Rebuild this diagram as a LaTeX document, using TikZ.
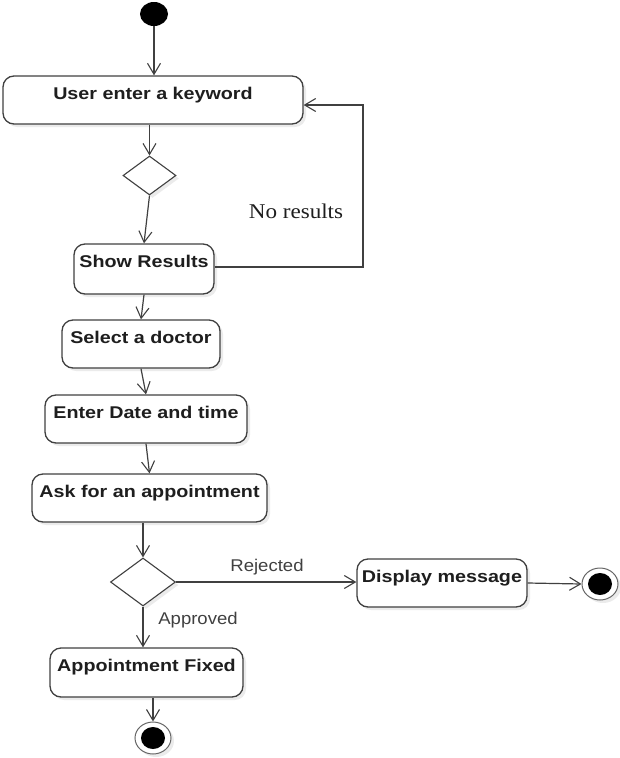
\documentclass[tikz,border=0pt]{standalone}
\usepackage{fontspec}
\setmainfont{Liberation Sans}
\newfontfamily\boxfont[FakeStretch=1.16]{Liberation Sans}
\newfontfamily\guardfont[FakeStretch=1.09]{Liberation Sans}
\newfontfamily\notefont[FakeStretch=1.1]{Liberation Serif}
\usetikzlibrary{arrows.meta,shapes.geometric,shadows}

\definecolor{edge}{HTML}{404040}
\definecolor{ink}{HTML}{1E1E1E}

\tikzset{
  softshadow/.style={drop shadow={shadow xshift=3pt,shadow yshift=-3pt,fill=black,opacity=0.08}},
  action/.style={draw=edge, line width=1.3pt, rounded corners=11pt, fill=white, softshadow,
    inner xsep=0pt, inner ysep=0pt, text height=23pt, text depth=#1, text=ink,
    font=\boxfont\bfseries\fontsize{17pt}{20pt}\selectfont},
  action/.default=25pt,
  decision/.style={diamond, draw=edge, line width=1.1pt, fill=white, softshadow, inner sep=0pt},
  startdot/.style={ellipse, fill=black, inner sep=0pt, minimum width=28pt, minimum height=24pt},
  endring/.style={ellipse, draw=edge!80, line width=1pt, fill=white, softshadow, inner sep=0pt,
    minimum width=36pt, minimum height=32pt},
  enddot/.style={ellipse, fill=black, inner sep=0pt, minimum width=24pt, minimum height=22pt},
  flow/.style={draw=edge, line width=1.2pt, -{Straight Barb[length=11pt,width=13pt,line width=1.1pt]}},
  guard/.style={text=edge, inner sep=0pt, font=\guardfont\fontsize{17pt}{20pt}\selectfont},
  note/.style={text=ink, inner sep=0pt, font=\notefont\fontsize{21pt}{24pt}\selectfont},
}

\begin{document}
\begin{tikzpicture}[x=1pt, y=-1pt]
  \useasboundingbox (0,0) rectangle (620,758);

  % initial node
  \node[startdot] (start) at (154,14) {};

  % actions
  \node[action, minimum width=300pt] (keyword) at (153,100) {User enter a keyword};
  \node[decision, minimum width=53pt, minimum height=39pt] (check) at (149.5,175.5) {};
  \node[action=27pt, minimum width=140pt] (results) at (144,269) {Show Results};
  \node[action, minimum width=158pt] (doctor) at (141,344) {Select a doctor};
  \node[action, minimum width=202pt] (datetime) at (146,419) {Enter Date and time};
  \node[action, minimum width=235pt] (ask) at (149.5,498) {Ask for an appointment};
  \node[decision, minimum width=65pt, minimum height=48pt] (answer) at (143,582) {};
  \node[action, minimum width=170pt] (message) at (442,583) {Display message};
  \node[action=26pt, minimum width=193pt] (fixed) at (146.5,672.5) {Appointment Fixed};

  % final nodes
  \node[endring] (endR) at (600,584) {};
  \node[enddot] (endRdot) at (600,584) {};
  \node[endring] (endB) at (153,738) {};
  \node[enddot] (endBdot) at (153,738) {};

  % control flow
  \draw[flow] (start.south) -- (start.south |- keyword.north);
  \draw[flow] (check.north |- keyword.south) -- (check.north);
  \draw[flow] (check.south) -- (results.north);
  \draw[flow] (results.south) -- (doctor.north);
  \draw[flow] (doctor.south) -- (datetime.north);
  \draw[flow] (datetime.south) -- (ask.north);
  \draw[flow] (answer.north |- ask.south) -- (answer.north);
  \draw[flow] (answer.south) -- (answer.south |- fixed.north);
  \draw[flow] (fixed.south -| endB.north) -- (endB.north);
  \draw[flow] (answer.east) -- (answer.east -| message.west);
  \draw[flow] (message.east) -- (endR.west);

  % retry loop
  \coordinate (loopturn) at (363,105);
  \draw[flow] ([yshift=2pt]results.east) -| (loopturn) -- (keyword.east |- loopturn);

  % guards
  \node[note] (noresults) at (296,211) {No results};
  \node[guard] (rejected) at (267,567) {Rejected};
  \node[guard] (approved) at (198,620) {Approved};
\end{tikzpicture}
\end{document}
